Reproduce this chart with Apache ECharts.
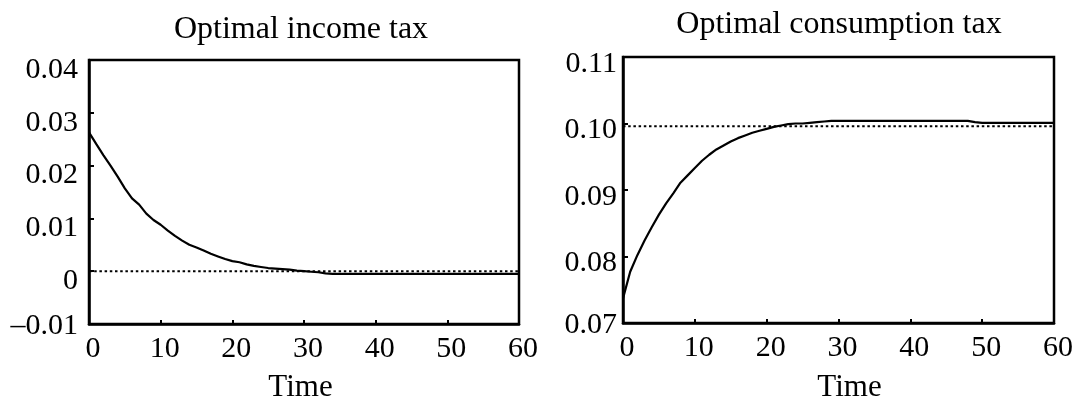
<!DOCTYPE html>
<html><head><meta charset="utf-8">
<script src="https://cdn.jsdelivr.net/npm/echarts@6/dist/echarts.min.js"></script>
<style>html,body{margin:0;padding:0;background:#fff}#c{width:1075px;height:402px}</style>
</head><body><div id="c"></div>
<script>
const time = [0,1,2,3,4,5,6,7,8,9,10,11,12,13,14,15,16,17,18,19,20,21,22,23,24,25,26,27,28,29,30,31,32,33,34,35,36,37,38,39,40,41,42,43,44,45,46,47,48,49,50,51,52,53,54,55,56,57,58,59,60];
const incomeTax = [0.0263,0.0241,0.0220,0.0200,0.0179,0.0157,0.0138,0.0126,0.0109,0.0097,
  0.0088,0.0077,0.0067,0.0058,0.0050,0.0045,0.0039,0.0033,0.0028,0.0023,
  0.0019,0.0017,0.0013,0.0010,0.0008,0.0006,0.0005,0.0004,0.0003,0.0001,
  0.0000,-0.0001,-0.0002,-0.0004,-0.0005,-0.0005,-0.0005,-0.0005,-0.0005,-0.0005,
  -0.0005,-0.0005,-0.0005,-0.0005,-0.0005,-0.0005,-0.0005,-0.0005,-0.0005,-0.0005,
  -0.0005,-0.0005,-0.0005,-0.0005,-0.0005,-0.0005,-0.0005,-0.0005,-0.0005,-0.0005,-0.0005];
const consumptionTax = [0.0737,0.0777,0.0802,0.0824,0.0844,0.0863,0.0880,0.0895,0.0911,0.0922,
  0.0933,0.0944,0.0953,0.0961,0.0967,0.0973,0.0978,0.0982,0.0986,0.0989,
  0.0992,0.0995,0.0997,0.0999,0.1000,0.1000,0.1001,0.1002,0.1003,0.1004,
  0.1004,0.1004,0.1004,0.1004,0.1004,0.1004,0.1004,0.1004,0.1004,0.1004,
  0.1004,0.1004,0.1004,0.1004,0.1004,0.1004,0.1004,0.1004,0.1004,0.1002,
  0.1001,0.1001,0.1001,0.1001,0.1001,0.1001,0.1001,0.1001,0.1001,0.1001,0.1001];
const incomeRef = 0;
const consumptionRef = 0.0996;
const xTickLabels = ['0','10','20','30','40','50','60'];
const incomeTickLabels = ['\u20130.01','0','0.01','0.02','0.03','0.04'];
const consumptionTickLabels = ['0.07','0.08','0.09','0.10','0.11'];
const titles = ['Optimal income tax','Optimal consumption tax'];
const xName = 'Time';

const FONT = 'Liberation Serif';
const chart = echarts.init(document.getElementById('c'), null, {renderer:'canvas'});

function labelFmt(labels, min, step) {
  return function (v) {
    const i = Math.round((v - min) / step);
    const t = labels[i] !== undefined ? labels[i] : '';
    return i === 0 ? '{b|' + t + '}' : '{a|' + t + '}';
  };
}
function xFmt(v) {
  const i = Math.round(v / 10);
  return xTickLabels[i] !== undefined ? xTickLabels[i] : '';
}
function xAxisCfg(gridIndex, nameGap, namePad) {
  return {
    gridIndex, type:'value', min:0, max:60, interval:10,
    axisLine:{show:true, onZero:false, lineStyle:{color:'#000', width:2.5}},
    axisTick:{show:true, inside:true, length:4, lineStyle:{color:'#000', width:2}},
    splitLine:{show:false},
    axisLabel:{margin:10, fontFamily:FONT, fontSize:30, color:'#000', padding:[0,0,0,8], formatter:xFmt},
    name:xName, nameLocation:'middle', nameGap:nameGap,
    nameTextStyle:{fontFamily:FONT, fontSize:31, color:'#000', padding:namePad}
  };
}
function yAxisCfg(gridIndex, min, max, labels, margin, shift) {
  return {
    gridIndex, type:'value', min, max, interval:0.01,
    axisLine:{show:true, onZero:false, lineStyle:{color:'#000', width:2.5}},
    axisTick:{show:true, inside:true, length:5, lineStyle:{color:'#000', width:2}},
    splitLine:{show:false},
    axisLabel:{margin, formatter:labelFmt(labels, min, 0.01),
      rich:{
        a:{fontFamily:FONT, fontSize:30, color:'#000', padding:[shift,0,0,0]},
        b:{fontFamily:FONT, fontSize:30, color:'#000', padding:[4,0,0,0]}
      }}
  };
}
const titleStyle = {fontFamily:FONT, fontSize:32, fontWeight:'normal', color:'#000'};
const option = {
  animation:false,
  backgroundColor:'#fff',
  title:[
    {text:titles[0], left:301, top:14, textAlign:'center', padding:0, textStyle:titleStyle},
    {text:titles[1], left:839, top:9, textAlign:'center', padding:0, textStyle:titleStyle}
  ],
  grid:[
    {left:89, right:556, top:60, bottom:78, show:true, borderColor:'#000', borderWidth:2.5,
      containLabel:false, outerBoundsMode:'none'},
    {left:623, right:21, top:57, bottom:79, show:true, borderColor:'#000', borderWidth:2.5,
      containLabel:false, outerBoundsMode:'none'}
  ],
  xAxis:[ xAxisCfg(0, 48, [0,7,0,0]), xAxisCfg(1, 49, [0,0,0,22]) ],
  yAxis:[
    yAxisCfg(0, -0.01, 0.04, incomeTickLabels, 11, 20),
    yAxisCfg(1, 0.07, 0.11, consumptionTickLabels, 6, 14)
  ],
  series:[
    {type:'line', xAxisIndex:0, yAxisIndex:0, data:time.map((t,i)=>[t, incomeRef]).filter((d,i)=>i===0||i===time.length-1),
      symbol:'none', lineStyle:{color:'#000', width:2, type:[2.5,2.7]}, z:2},
    {type:'line', xAxisIndex:0, yAxisIndex:0, data:time.map((t,i)=>[t, incomeTax[i]]),
      symbol:'none', lineStyle:{color:'#000', width:2.2}, z:3},
    {type:'line', xAxisIndex:1, yAxisIndex:1, data:time.map((t,i)=>[t, consumptionRef]).filter((d,i)=>i===0||i===time.length-1),
      symbol:'none', lineStyle:{color:'#000', width:2, type:[2.5,2.7]}, z:2},
    {type:'line', xAxisIndex:1, yAxisIndex:1, data:time.map((t,i)=>[t, consumptionTax[i]]),
      symbol:'none', lineStyle:{color:'#000', width:2.2}, z:3}
  ]
};
chart.setOption(option);
</script>
</body></html>
